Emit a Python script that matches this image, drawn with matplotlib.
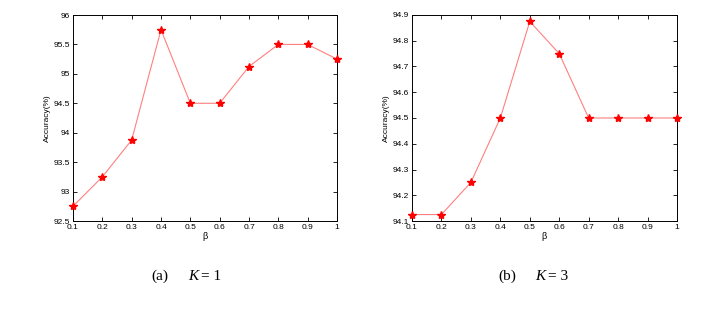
import matplotlib
matplotlib.use("Agg")
import matplotlib.pyplot as plt

beta = [0.1, 0.2, 0.3, 0.4, 0.5, 0.6, 0.7, 0.8, 0.9, 1.0]
acc_k1 = [92.75, 93.25, 93.875, 95.75, 94.5, 94.5, 95.125, 95.5, 95.5, 95.25]
acc_k3 = [94.125, 94.125, 94.25, 94.5, 94.875, 94.75, 94.5, 94.5, 94.5, 94.5]
xticks = [0.1, 0.2, 0.3, 0.4, 0.5, 0.6, 0.7, 0.8, 0.9, 1.0]
xticklabels = ["0.1", "0.2", "0.3", "0.4", "0.5", "0.6", "0.7", "0.8", "0.9", "1"]
yticks_k1 = [92.5, 93, 93.5, 94, 94.5, 95, 95.5, 96]
yticklabels_k1 = ["92.5", "93", "93.5", "94", "94.5", "95", "95.5", "96"]
yticks_k3 = [94.1, 94.2, 94.3, 94.4, 94.5, 94.6, 94.7, 94.8, 94.9]
yticklabels_k3 = ["94.1", "94.2", "94.3", "94.4", "94.5", "94.6", "94.7", "94.8", "94.9"]
captions = [("(a)", "K", "1"), ("(b)", "K", "3")]

W, H = 714, 309
fig = plt.figure(figsize=(W / 100, H / 100), dpi=100)
plt.rcParams['font.family'] = ['Liberation Sans', 'DejaVu Sans']

def px_axes(l, r, t, b):
    return fig.add_axes([l / W, 1 - b / H, (r - l) / W, (b - t) / H])

ax1 = px_axes(73, 337, 15, 221)
ax2 = px_axes(412, 677, 15, 221)

for ax, y, yt, ytl, yl in [
    (ax1, acc_k1, yticks_k1, yticklabels_k1, (92.5, 96)),
    (ax2, acc_k3, yticks_k3, yticklabels_k3, (94.1, 94.9)),
]:
    ax.plot(beta, y, color="#ff8080", lw=0.8, zorder=2)
    ax.plot(beta, y, ls="none", marker="*", ms=6, color="#ff0000",
            mec="#ff0000", zorder=3, clip_on=False)
    ax.set_xlim(0.1, 1.0)
    ax.set_ylim(*yl)
    ax.set_xticks(xticks)
    ax.set_xticklabels(xticklabels)
    ax.set_yticks(yt)
    ax.set_yticklabels(ytl)
    ax.tick_params(direction="in", top=True, right=True, labelsize=6,
                   length=3, width=0.6, pad=2)
    for s in ax.spines.values():
        s.set_linewidth(0.7)
    ax.set_xlabel("β", fontsize=6.5, labelpad=1)
    ax.set_ylabel("Accuracy(%)", fontsize=6, labelpad=2)

# captions
for (lab, k, v), xl in zip(captions, [151, 498]):
    y = 1 - 276 / H
    fig.text(xl / W, y, lab, fontsize=11, family="Liberation Serif",
             va="center", ha="left")
    fig.text((xl + 37) / W, y, k, fontsize=11, family="Liberation Serif",
             style="italic", va="center", ha="left")
    fig.text((xl + 50) / W, y, "= " + v, fontsize=11, family="Liberation Serif",
             va="center", ha="left")

fig.savefig("out.png", dpi=100)
